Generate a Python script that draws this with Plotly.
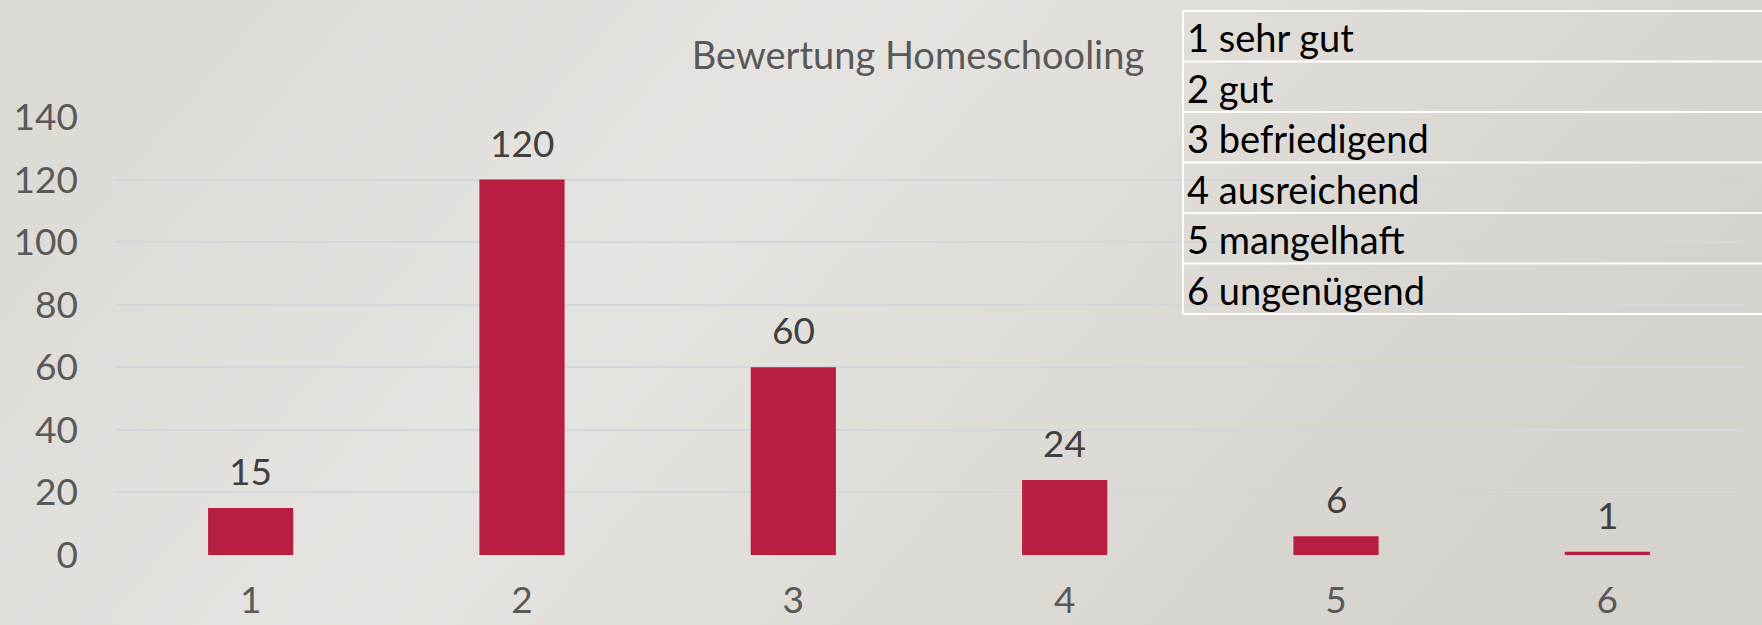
import base64
import plotly.graph_objects as go

# ---- data ----
categories = ["1", "2", "3", "4", "5", "6"]
values = [15, 120, 60, 24, 6, 1]
y_ticks = [0, 20, 40, 60, 80, 100, 120, 140]
legend_rows = ["1 sehr gut", "2 gut", "3 befriedigend", "4 ausreichend", "5 mangelhaft", "6 ungenügend"]
title_text = "Bewertung Homeschooling"

# ---- geometry (page pixels) ----
W, H = 1762, 625
PL, PR, PT, PB = 115, 1743, 117, 555
FONT = "Lato, 'Gill Sans', 'Open Sans', sans-serif"


def px(X):
    return (X - PL) / (PR - PL)


def py(Y):
    return (PB - Y) / (PB - PT)


fig = go.Figure()
fig.add_trace(go.Bar(
    x=categories, y=values,
    marker=dict(color="#B81D42", line=dict(width=0)),
    hoverinfo="x+y",
))

annotations = []
for i, v in enumerate(values):
    annotations.append(dict(
        x=i, y=v, xref="x", yref="y", text=str(v), showarrow=False,
        xanchor="center", yanchor="bottom", yshift=13,
        font=dict(family=FONT, size=37, color="#404040"),
    ))

# table-like label box
table_left = 1183
table_top = 11
row_h = 50.5
shapes = []
for i in range(len(legend_rows) + 1):
    Y = table_top + i * row_h
    shapes.append(dict(type="line", xref="paper", yref="paper",
                       x0=px(table_left), x1=px(W + 5), y0=py(Y), y1=py(Y),
                       line=dict(color="#FFFFFF", width=2)))
shapes.append(dict(type="line", xref="paper", yref="paper",
                   x0=px(table_left), x1=px(table_left),
                   y0=py(table_top), y1=py(table_top + len(legend_rows) * row_h),
                   line=dict(color="#FFFFFF", width=2)))
for i, lab in enumerate(legend_rows):
    Yc = table_top + (i + 0.5) * row_h
    annotations.append(dict(
        x=px(table_left + 2), y=py(Yc + 1), xref="paper", yref="paper",
        text=lab, showarrow=False, xanchor="left", yanchor="middle",
        font=dict(family=FONT, size=38, color="#000000"),
    ))

# soft background gradient
svg = f'''<svg xmlns="http://www.w3.org/2000/svg" width="{W}" height="{H}">
<defs>
<linearGradient id="g" x1="0" y1="0" x2="1" y2="0.3">
<stop offset="0" stop-color="#DAD8D3"/>
<stop offset="0.45" stop-color="#E6E4E0"/>
<stop offset="0.8" stop-color="#DCD9D4"/>
<stop offset="1" stop-color="#D6D3CE"/>
</linearGradient>
</defs>
<rect width="{W}" height="{H}" fill="url(#g)"/>
</svg>'''
src = "data:image/svg+xml;base64," + base64.b64encode(svg.encode()).decode()

fig.update_layout(
    width=W, height=H,
    margin=dict(l=PL, r=W - PR, t=PT, b=H - PB, pad=0, autoexpand=False),
    paper_bgcolor="#E0DED9",
    plot_bgcolor="rgba(0,0,0,0)",
    bargap=0.686,
    showlegend=False,
    title=dict(text=title_text, x=918 / W, xanchor="center", xref="container",
               y=1 - 56 / H, yanchor="middle", yref="container",
               font=dict(family=FONT, size=38, color="#595959"), automargin=False),
    xaxis=dict(type="category", showgrid=False, zeroline=False, showline=False,
               ticks="", tickfont=dict(family=FONT, size=37, color="#595959"),
               ticklabelstandoff=20, automargin=False),
    yaxis=dict(range=[0, 140], tickvals=y_ticks, showgrid=True,
               gridcolor="#D3D6DA", gridwidth=1.5, zeroline=False, showline=False,
               ticks="", tickfont=dict(family=FONT, size=37, color="#595959"),
               ticklabelstandoff=36, automargin=False),
    annotations=annotations,
    shapes=shapes,
    images=[dict(source=src, xref="paper", yref="paper",
                 x=px(0), y=py(0), sizex=W / (PR - PL), sizey=H / (PB - PT),
                 xanchor="left", yanchor="top", sizing="stretch", layer="below")],
)

fig.write_html(
    "out.html",
    config={"displayModeBar": False},
    post_script="document.body.style.margin='0';document.body.style.background='#E0DED9';document.body.style.overflow='hidden';",
)
